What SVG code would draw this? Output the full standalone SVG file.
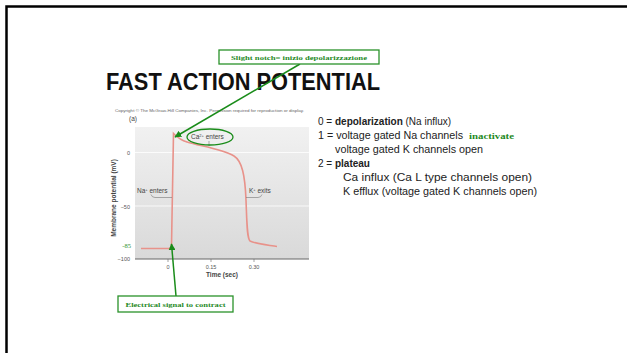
<svg xmlns="http://www.w3.org/2000/svg" width="627" height="353" viewBox="0 0 627 353">
<defs>
<linearGradient id="bg" x1="0" y1="0" x2="0" y2="1">
<stop offset="0" stop-color="#f1f1f1"/>
<stop offset="1" stop-color="#d9d9d9"/>
</linearGradient>
<marker id="ah" viewBox="0 0 10 10" refX="9" refY="5" markerWidth="7" markerHeight="7" orient="auto" markerUnits="userSpaceOnUse">
<path d="M0,0 L10,5 L0,10 z" fill="#1a8c1a"/>
</marker>
<style>
.body{font-family:"Liberation Sans",Arial,sans-serif;font-size:10px;fill:#222}
.b{font-weight:bold}
.ax{font-family:"Liberation Sans",Arial,sans-serif;font-size:5.5px;fill:#555}
.lab{font-family:"Liberation Sans",Arial,sans-serif;font-size:6.5px;fill:#444}
.gr{font-family:"Liberation Serif","Times New Roman",serif;font-weight:bold;fill:#1f8a1f}
.box{fill:#fff;stroke:#2a922a;stroke-width:1.3}
.con{stroke:#1a8c1a;stroke-width:1.5;fill:none}
.lead{stroke:#777;stroke-width:0.6;fill:none}
</style>
</defs>
<rect width="627" height="353" fill="#fff"/>
<path d="M6.5,353 L6.5,6.5 L627,6.5" fill="none" stroke="#000" stroke-width="2.5"/>

<g id="title">
<text x="106" y="90" font-family="'Liberation Sans',Arial,sans-serif" font-weight="bold" font-size="23.5" fill="#111" textLength="274" lengthAdjust="spacingAndGlyphs">FAST ACTION POTENTIAL</text>
</g>

<g id="chart">
<text x="115" y="111.5" font-family="'Liberation Sans',Arial,sans-serif" font-size="3.6" fill="#666" textLength="189" lengthAdjust="spacingAndGlyphs">Copyright © The McGraw-Hill Companies, Inc. Permission required for reproduction or display.</text>
<text x="129" y="121" class="lab" font-size="7">(a)</text>
<rect x="135" y="127" width="174" height="132" fill="url(#bg)"/>
<line x1="135" y1="152.5" x2="309" y2="152.5" stroke="#fff" stroke-width="0.8"/>
<line x1="135" y1="206" x2="309" y2="206" stroke="#fff" stroke-width="0.8"/>
<line x1="135" y1="259" x2="309" y2="259" stroke="#666" stroke-width="1"/>
<line x1="168" y1="259" x2="168" y2="262" stroke="#666" stroke-width="0.6"/>
<line x1="211" y1="259" x2="211" y2="262" stroke="#666" stroke-width="0.6"/>
<line x1="254" y1="259" x2="254" y2="262" stroke="#666" stroke-width="0.6"/>
<text x="130" y="155" class="ax" text-anchor="end">0</text>
<text x="130" y="208.5" class="ax" text-anchor="end">−50</text>
<text x="130" y="261" class="ax" text-anchor="end">−100</text>
<text x="131" y="248" text-anchor="end" font-family="'Liberation Serif',serif" font-size="6.5" fill="#2a922a">-85</text>
<text x="168" y="269" class="ax" text-anchor="middle">0</text>
<text x="211" y="269" class="ax" text-anchor="middle">0.15</text>
<text x="254" y="269" class="ax" text-anchor="middle">0.30</text>
<text x="222" y="277" class="lab b" text-anchor="middle">Time (sec)</text>
<text transform="translate(116,198) rotate(-90)" class="lab b" text-anchor="middle">Membrane potential (mV)</text>
<path d="M141,248.5 L170,248.5 L171.5,246 L173.5,133.5 C176,136 180,140 187,142 C200,146 222,149 234,156 C242,161 245,175 246,200 C247,225 247,238 250,241 C256,244 268,245 277,246.5" fill="none" stroke="#e8928a" stroke-width="1.6"/>
<text x="137" y="193" class="lab">Na<tspan font-size="4" dy="-2.5">+</tspan><tspan dy="2.5"> enters</tspan></text>
<path class="lead" d="M151,194.5 Q152,197.5 155,197.5 L172,197.5"/>
<text x="249" y="193" class="lab">K<tspan font-size="4" dy="-2.5">+</tspan><tspan dy="2.5"> exits</tspan></text>
<path class="lead" d="M246,197.5 L258,197.5 Q261,197.5 262,194.5"/>
<text x="191" y="139" class="lab">Ca<tspan font-size="4" dy="-2.5">2+</tspan><tspan dy="2.5"> enters</tspan></text>
<line class="lead" x1="209" y1="141" x2="209" y2="146"/>
</g>

<g id="text-list">
<text x="318" y="125" class="body">0 = <tspan class="b">depolarization</tspan> (Na influx)</text>
<text x="318" y="139" class="body" textLength="145" lengthAdjust="spacingAndGlyphs">1 = voltage gated Na channels</text>
<text x="469" y="138.5" class="gr" font-size="8.5" textLength="45" lengthAdjust="spacingAndGlyphs">inactivate</text>
<text x="335" y="153" class="body" textLength="148" lengthAdjust="spacingAndGlyphs">voltage gated K channels open</text>
<text x="318" y="167" class="body">2 = <tspan class="b">plateau</tspan></text>
<text x="343" y="181" class="body" textLength="189" lengthAdjust="spacingAndGlyphs">Ca influx (Ca L type channels open)</text>
<text x="343" y="195" class="body" textLength="194" lengthAdjust="spacingAndGlyphs">K efflux (voltage gated K channels open)</text>
</g>

<g id="ca-ellipse">
<ellipse cx="210" cy="137" rx="23" ry="8" fill="none" stroke="#1a8c1a" stroke-width="1.3"/>
</g>

<g id="connectors">
<line class="con" x1="300" y1="64" x2="175" y2="137" marker-end="url(#ah)"/>
<line class="con" x1="176" y1="296" x2="171.5" y2="244" marker-end="url(#ah)"/>
</g>

<g id="callout-notch">
<rect class="box" x="219" y="50" width="160" height="14"/>
<text x="299" y="60" class="gr" font-size="7" text-anchor="middle" textLength="136" lengthAdjust="spacingAndGlyphs">Slight notch= inizio depolarizzazione</text>
</g>

<g id="callout-signal">
<rect class="box" x="118" y="296" width="115" height="16"/>
<text x="175.5" y="307" class="gr" font-size="7" text-anchor="middle" textLength="100" lengthAdjust="spacingAndGlyphs">Electrical signal to contract</text>
</g>
</svg>
